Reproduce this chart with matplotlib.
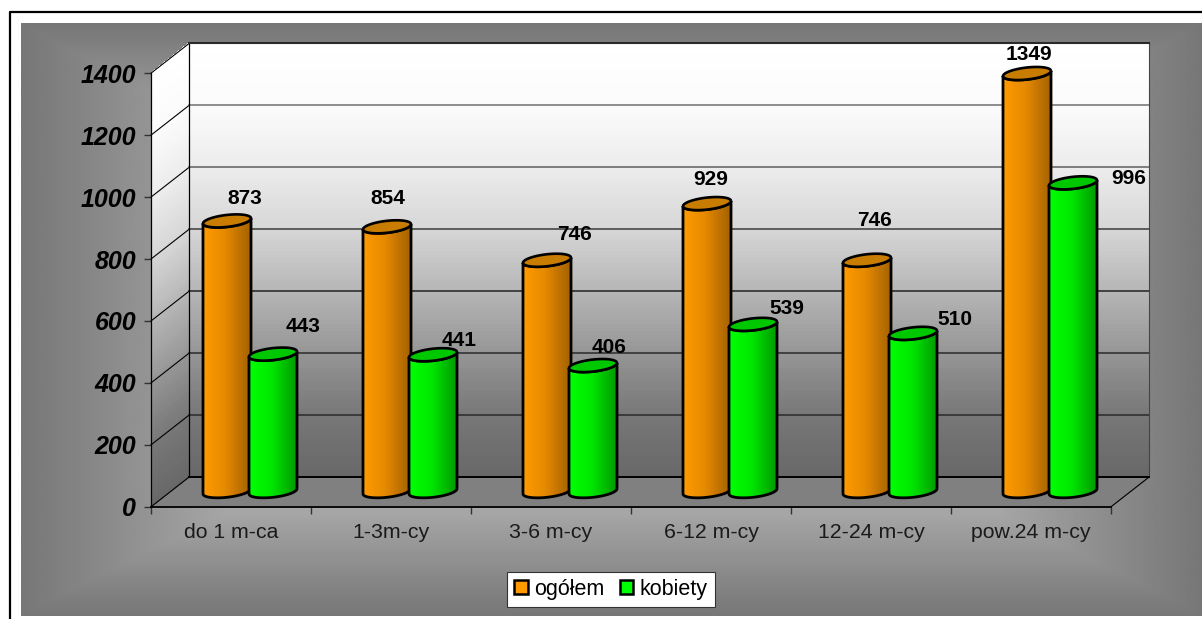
import numpy as np
import matplotlib
matplotlib.use('Agg')
import matplotlib.pyplot as plt
from matplotlib.path import Path
from matplotlib.patches import PathPatch, Patch
from matplotlib.colors import LinearSegmentedColormap
from matplotlib.transforms import ScaledTranslation

categories = ['do 1 m-ca', '1-3m-cy', '3-6 m-cy', '6-12 m-cy', '12-24 m-cy', 'pow.24 m-cy']
ogolem = [873, 854, 746, 929, 746, 1349]
kobiety = [443, 441, 406, 539, 510, 996]
y_ticks = [0, 200, 400, 600, 800, 1000, 1200, 1400]

# label offsets from the top of each cylinder, in pixels
ogolem_off = [(18, 22), (1, 28), (28, 26), (4, 24), (7, 40), (2, 19)]
kobiety_off = [(30, 28), (26, 14), (16, 18), (34, 16), (42, 14), (56, 4)]
# gridline colour per tick, they get darker towards the floor
grid_colors = ['#000000', '#2a2a2a', '#2a2a2a', '#222222', '#3a3a3a', '#5f5f5f', '#6f6f6f', '#2a2a2a']

W, H = 1202, 619
plt.rcParams['font.family'] = ['Liberation Sans', 'DejaVu Sans']

fig = plt.figure(figsize=(W / 100, H / 100), dpi=100, facecolor='white')

# grey chart area, lighter towards the middle
bg = fig.add_axes([21 / W, 3 / H, (W - 21) / W, 593 / H], zorder=0)
xx, yy = np.meshgrid(np.linspace(-1, 1, 600), np.linspace(-1, 1, 300))
t = np.maximum(np.abs(xx), np.abs(yy))
bg.imshow(119 + (1 - t) * 136, cmap='gray', vmin=0, vmax=255, aspect='auto')
bg.axis('off')

# outer frame
frame = fig.add_axes([0, 0, 1, 1], zorder=1)
frame.set_xlim(0, W)
frame.set_ylim(H, 0)
frame.axis('off')
frame.plot([10, 10, W], [H, 12, 12], color='black', lw=1.6)

ax = fig.add_axes([151 / W, (H - 506.8) / H, 960 / W, 433.6 / H], zorder=2)
ax.patch.set_visible(False)

PX_X = 6 / 960
PX_Y = 1400 / 433.6
dx = 38 * PX_X
dy = 29.7 * PX_Y

wall_cmap = LinearSegmentedColormap.from_list('wall', ['#ffffff', '#fbfbfb', '#ececec', '#d6d6d6',
                                                        '#b6b6b6', '#969696', '#787878', '#686868'])
n = 120
v = np.linspace(0, 1400, n)
shade = np.linspace(1, 0, n - 1)[:, None]

# floor
ax.fill([0, dx, 6 + dx, 6], [0, dy, dy, 0], color='#808080', clip_on=False, zorder=1)

# back wall and side wall
X = np.column_stack([np.full(n, dx), np.full(n, 6 + dx)])
Y = np.column_stack([v + dy, v + dy])
ax.pcolormesh(X, Y, shade, cmap=wall_cmap, vmin=0, vmax=1, clip_on=False, zorder=1, rasterized=True)
X = np.column_stack([np.zeros(n), np.full(n, dx)])
Y = np.column_stack([v, v + dy])
ax.pcolormesh(X, Y, shade, cmap=wall_cmap, vmin=0, vmax=1, clip_on=False, zorder=1, rasterized=True)

for tick, col in zip(y_ticks, grid_colors):
    ax.plot([0, dx], [tick, tick + dy], color='black', lw=0.8, clip_on=False, zorder=2)
    if 0 < tick < 1400:
        ax.plot([dx, 6 + dx], [tick + dy, tick + dy], color=col, lw=1.1, clip_on=False, zorder=2)
ax.plot([dx, dx], [dy, 1400 + dy], color='black', lw=0.9, clip_on=False, zorder=2)
ax.plot([6 + dx, 6 + dx], [dy, 1400 + dy], color='#444444', lw=0.8, clip_on=False, zorder=2)
ax.plot([dx, 6 + dx], [1400 + dy, 1400 + dy], color='#2a2a2a', lw=1.5, clip_on=False, zorder=2)
ax.plot([dx, 6 + dx], [dy, dy], color='black', lw=1.4, clip_on=False, zorder=2)
ax.plot([6, 6 + dx], [0, dy], color='black', lw=0.8, clip_on=False, zorder=2)

# cylinders
base = 15.5 * PX_Y
half_w = 24 * PX_X
minor = 6 * PX_Y
tilt = 2.6 * PX_Y
orange_cmap = LinearSegmentedColormap.from_list('o', [(0, '#ff9a00'), (0.45, '#e68a00'), (1, '#a46200')])
green_cmap = LinearSegmentedColormap.from_list('g', [(0, '#00ff00'), (0.45, '#00e800'), (1, '#009c00')])


def ellipse(cx, cy, t):
    return np.column_stack([cx + half_w * np.cos(t), cy + minor * np.sin(t) + tilt * np.cos(t)])


def cylinder(cx, value, cmap, top_color, z):
    top_y = value + base
    # body: bottom arc, right edge, top arc, left edge
    bottom = ellipse(cx, base, np.linspace(np.pi, 2 * np.pi, 40))
    top = ellipse(cx, top_y, np.linspace(2 * np.pi, np.pi, 40))
    pts = np.vstack([bottom, top, bottom[:1]])
    ax.add_patch(PathPatch(Path(pts), facecolor='none', edgecolor='black', lw=2.0, clip_on=False, zorder=z + 0.2))
    # 24 colour steps give the banding of the original
    grad = ax.imshow(np.linspace(0, 1, 24)[None, :], cmap=cmap, aspect='auto', zorder=z,
                     interpolation='nearest', extent=(cx - half_w, cx + half_w, 0, top_y + 2 * minor))
    grad.set_clip_path(PathPatch(Path(pts), transform=ax.transData))
    lid = ellipse(cx, top_y, np.linspace(0, 2 * np.pi, 80))
    ax.add_patch(PathPatch(Path(lid), facecolor=top_color, edgecolor='black', lw=1.9, clip_on=False, zorder=z + 0.3))
    return top_y


for i in range(len(categories)):
    cx_o = i + 76 * PX_X
    cx_k = i + 122 * PX_X
    top_o = cylinder(cx_o, ogolem[i], orange_cmap, '#c87c00', 3)
    top_k = cylinder(cx_k, kobiety[i], green_cmap, '#00c800', 4)
    ax.annotate(str(ogolem[i]), (cx_o, top_o), xytext=ogolem_off[i], textcoords='offset pixels',
                ha='center', va='center', fontsize=15, fontweight='bold', color='black',
                annotation_clip=False, zorder=6)
    ax.annotate(str(kobiety[i]), (cx_k, top_k), xytext=kobiety_off[i], textcoords='offset pixels',
                ha='center', va='center', fontsize=15, fontweight='bold', color='black',
                annotation_clip=False, zorder=6)

ax.set_xlim(0, 6)
ax.set_ylim(0, 1400)

ax.set_yticks(y_ticks)
ax.set_yticklabels([str(tick) for tick in y_ticks], fontsize=18, fontweight='bold', fontstyle='italic')
shift = ScaledTranslation(0, -2 / 100, fig.dpi_scale_trans)
for lab in ax.get_yticklabels():
    lab.set_transform(lab.get_transform() + shift)
ax.tick_params(axis='y', length=5.2, width=1, color='#333333', pad=5.5)
ax.set_xticks(range(7))
ax.set_xticklabels([])
ax.set_xticks(np.arange(6) + 0.5, minor=True)
ax.set_xticklabels(categories, minor=True, fontsize=15.3, color='#1a1a1a')
ax.tick_params(axis='x', which='major', length=5.2, width=1, color='#333333')
ax.tick_params(axis='x', which='minor', length=0, pad=12)
for side in ['top', 'right']:
    ax.spines[side].set_visible(False)
ax.spines['left'].set_linewidth(0.9)
ax.spines['bottom'].set_linewidth(1.3)
ax.spines['bottom'].set_zorder(5)

handles = [Patch(facecolor='#ff9900', edgecolor='black', lw=1.8, label='ogółem'),
           Patch(facecolor='#00ff00', edgecolor='black', lw=1.8, label='kobiety')]
leg = fig.legend(handles=handles, ncol=2, loc='center', bbox_to_anchor=(611 / W, (H - 589.5) / H),
                 fontsize=15.5, frameon=True, fancybox=False, framealpha=1, facecolor='white',
                 edgecolor='#333333', handlelength=0.62, handleheight=0.62, handletextpad=0.3,
                 columnspacing=0.72, borderpad=0.32, borderaxespad=0)
leg.get_frame().set_linewidth(0.8)
leg.set_zorder(10)

fig.savefig('out.png', dpi=100, facecolor='white')
